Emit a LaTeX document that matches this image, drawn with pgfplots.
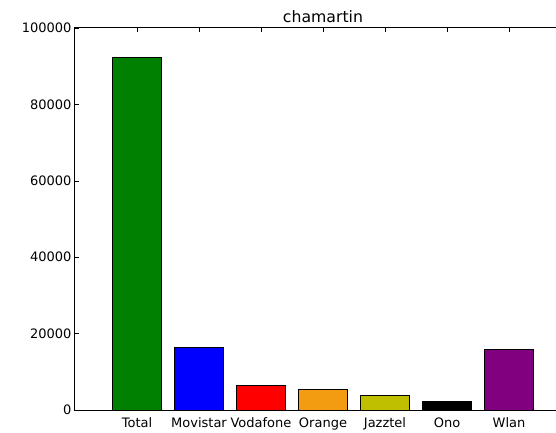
\documentclass[border=0pt]{standalone}
\usepackage{fontspec}
\setmainfont{DejaVu Sans}
\usepackage{pgfplots}
\pgfplotsset{compat=1.18}

\definecolor{mplgreen}{HTML}{008000}
\definecolor{mplorange}{HTML}{F39C12}
\definecolor{mplyellow}{HTML}{BFBF00}
\definecolor{mplpurple}{HTML}{800080}

\begin{document}
\begin{tikzpicture}
\begin{axis}[
    scale only axis,
    width=496pt, height=382pt,
    xmin=-1, xmax=7,
    ymin=0, ymax=100000,
    xtick={0,1,2,3,4,5,6},
    xticklabels={Total,Movistar,Vodafone,Orange,Jazztel,Ono,Wlan},
    ytick={0,20000,40000,60000,80000,100000},
    scaled y ticks=false,
    /pgf/number format/fixed,
    /pgf/number format/1000 sep={},
    /pgf/number format/assume math mode=true,
    tick align=inside,
    major tick length=4pt,
    tick style={black, line width=0.6pt},
    axis line style={black, line width=1pt},
    ticklabel style={font=\fontsize{13}{15}\selectfont},
    xticklabel style={anchor=base, yshift=-17pt},
    title={chamartin},
    title style={anchor=base, yshift=-0.5pt, font=\fontsize{15.7}{18}\selectfont},
    every axis plot/.append style={ybar, bar width=0.8, draw=black, line width=0.8pt},
]
\addplot[fill=mplgreen] coordinates {(0,92200)};
\addplot[fill=blue] coordinates {(1,16400)};
\addplot[fill=red] coordinates {(2,6400)};
\addplot[fill=mplorange] coordinates {(3,5300)};
\addplot[fill=mplyellow] coordinates {(4,3850)};
\addplot[fill=black] coordinates {(5,2300)};
\addplot[fill=mplpurple] coordinates {(6,15800)};
\coordinate (o) at (rel axis cs:0,0);
\end{axis}
\pgfresetboundingbox
\path[use as bounding box] ([shift={(-75pt,-22pt)}]o) rectangle ++(556pt,432pt);
\end{tikzpicture}
\end{document}
